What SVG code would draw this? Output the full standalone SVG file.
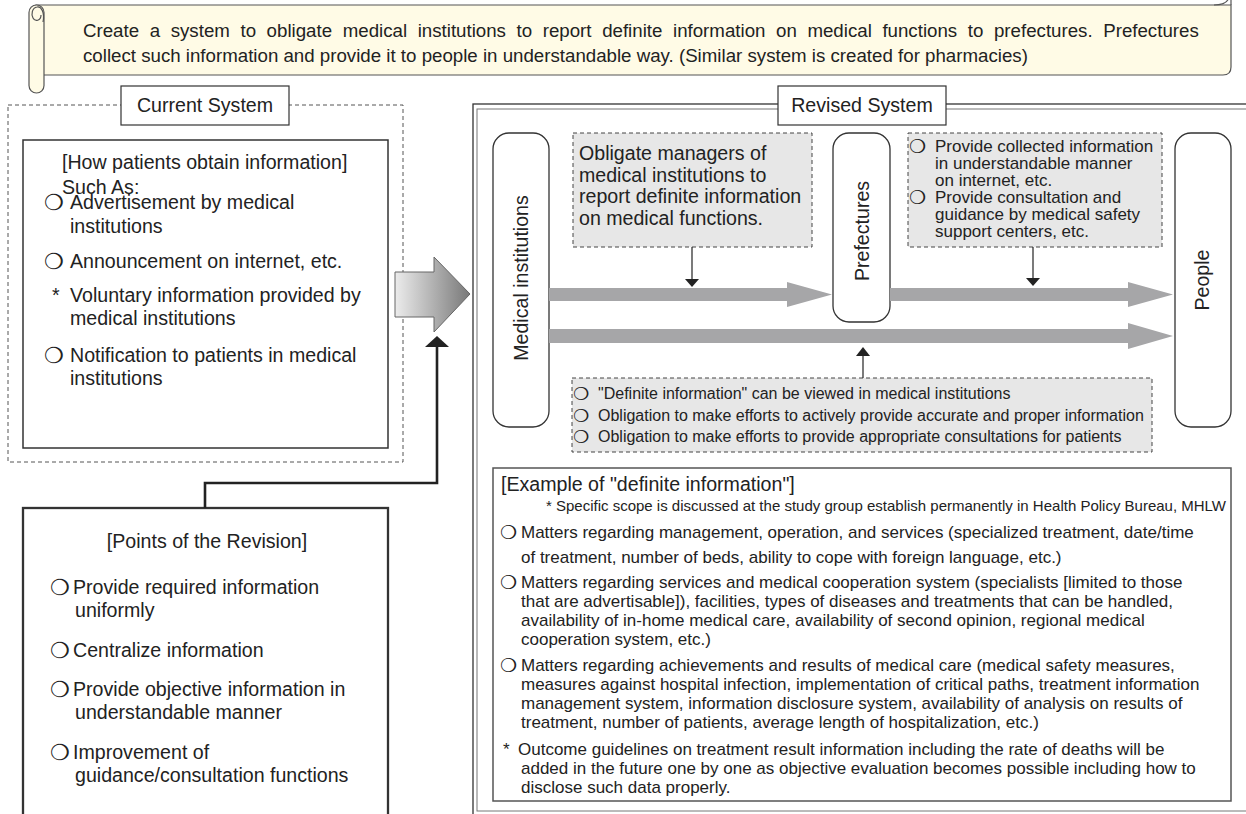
<svg xmlns="http://www.w3.org/2000/svg" width="1246" height="814" viewBox="0 0 1246 814">
<defs>
<linearGradient id="bigArrowGrad" x1="0" y1="0" x2="1" y2="0">
<stop offset="0" stop-color="#ececec"/>
<stop offset="1" stop-color="#787878"/>
</linearGradient>
</defs>
<style>
text { font-family: "Liberation Sans", Arial, sans-serif; fill: #222; }
.f20 { font-size: 19.6px; }
.f19 { font-size: 18.7px; }
.f17 { font-size: 17px; }
.f16 { font-size: 16px; }
.f15 { font-size: 15px; }
.mid { text-anchor: middle; }
.bul { font-family: "DejaVu Sans", sans-serif; }
.b22 { font-size: 22px; }
.b19 { font-size: 19px; }
.b18 { font-size: 18px; }
.dash { fill: #e7e7e7; stroke: #444; stroke-width: 1; stroke-dasharray: 4 3; }
.node { fill: #fff; stroke: #333; stroke-width: 1.3; }
.flow { fill: #a6a6a8; }
.blk { fill: #222; }
.ln { stroke: #222; fill: none; }
.scroll { fill: #fffbe6; stroke: #555; stroke-width: 1.2; }
</style>
<rect width="1246" height="814" fill="#fff"/>

<g id="banner">
<path class="scroll" d="M36 5 H1231 V67 Q1231 75 1223 75 H36 Z"/>
<path d="M1231 5 V-3 M1214 5 C1223 5 1228 2 1229 -3" fill="none" stroke="#555" stroke-width="1.2"/>
<rect class="scroll" x="29" y="5" width="15" height="88" rx="7.5"/>
<path d="M43 22 C45 12 41 6 37 7 C32 8 31 14 33 18 C35 22 41 21 41 15" fill="none" stroke="#555" stroke-width="1.2"/>
<text class="f19" x="83" y="37" word-spacing="5.4">Create a system to obligate medical institutions to report definite information on medical functions to prefectures. Prefectures</text>
<text class="f19" x="83" y="62">collect such information and provide it to people in understandable way. (Similar system is created for pharmacies)</text>
</g>

<g id="current-system">
<rect x="8" y="105" width="395" height="357" fill="none" stroke="#555" stroke-width="1" stroke-dasharray="4 3"/>
<rect x="23" y="140" width="365" height="308" fill="#fff" stroke="#333" stroke-width="1.5"/>
<rect x="121" y="86" width="168" height="39" fill="#fff" stroke="#333" stroke-width="1.2"/>
<text class="f20 mid" x="205" y="112">Current System</text>
<text class="f20" x="62" y="169">[How patients obtain information]</text>
<text class="f20" x="62" y="194">Such As:</text>
<text class="bul b22" x="44" y="210">❍</text>
<text class="f20" x="70" y="209">Advertisement by medical</text>
<text class="f20" x="70" y="233">institutions</text>
<text class="bul b22" x="44" y="269">❍</text>
<text class="f20" x="70" y="268">Announcement on internet, etc.</text>
<text class="f20" x="52" y="302">*</text>
<text class="f20" x="70" y="302">Voluntary information provided by</text>
<text class="f20" x="70" y="325">medical institutions</text>
<text class="bul b22" x="44" y="363">❍</text>
<text class="f20" x="70" y="362">Notification to patients in medical</text>
<text class="f20" x="70" y="385">institutions</text>
</g>

<g id="transition-arrow">
<polygon points="395,272 434,272 434,257 470,294 434,332 434,317 395,317" fill="url(#bigArrowGrad)" stroke="#666" stroke-width="1"/>
</g>

<g id="points-of-revision">
<rect x="23" y="508" width="365" height="330" fill="#fff" stroke="#333" stroke-width="2.3"/>
<text class="f20 mid" x="207" y="548">[Points of the Revision]</text>
<text class="bul b22" x="50" y="595">❍</text>
<text class="f20" x="73" y="594">Provide required information</text>
<text class="f20" x="75" y="617">uniformly</text>
<text class="bul b22" x="50" y="658">❍</text>
<text class="f20" x="73" y="657">Centralize information</text>
<text class="bul b22" x="50" y="697">❍</text>
<text class="f20" x="73" y="696">Provide objective information in</text>
<text class="f20" x="75" y="719">understandable manner</text>
<text class="bul b22" x="50" y="760">❍</text>
<text class="f20" x="73" y="759">Improvement of</text>
<text class="f20" x="75" y="782">guidance/consultation functions</text>
</g>

<g id="revised-system">
<rect x="473" y="104" width="800" height="720" fill="none" stroke="#333" stroke-width="1.3"/>
<rect x="477" y="109" width="800" height="702" fill="none" stroke="#777" stroke-width="1"/>
<rect x="778" y="86" width="168" height="39" fill="#fff" stroke="#333" stroke-width="1.2"/>
<text class="f20 mid" x="862" y="112">Revised System</text>
</g>

<g id="medical-institutions">
<rect class="node" x="493" y="133" width="56" height="294" rx="16"/>
<text class="f20 mid" transform="translate(528 278) rotate(-90)">Medical institutions</text>
</g>

<g id="prefectures">
<rect class="node" x="833" y="133" width="57" height="189" rx="16"/>
<text class="f20 mid" transform="translate(869 231) rotate(-90)">Prefectures</text>
</g>

<g id="people">
<rect class="node" x="1175" y="133" width="56" height="294" rx="16"/>
<text class="f20 mid" transform="translate(1209 280) rotate(-90)">People</text>
</g>

<g id="box-report-obligation">
<rect class="dash" x="573" y="133" width="239" height="114"/>
<text class="f20" x="579" y="160">Obligate managers of</text>
<text class="f20" x="579" y="181.7">medical institutions to</text>
<text class="f20" x="579" y="203.3">report definite information</text>
<text class="f20" x="579" y="225">on medical functions.</text>
</g>

<g id="box-prefecture-provision">
<rect class="dash" x="908" y="133" width="254" height="114"/>
<text class="bul b19" x="909" y="153">❍</text>
<text class="f17" x="935" y="152">Provide collected information</text>
<text class="f17" x="935" y="169">in understandable manner</text>
<text class="f17" x="935" y="186">on internet, etc.</text>
<text class="bul b19" x="909" y="204">❍</text>
<text class="f17" x="935" y="203">Provide consultation and</text>
<text class="f17" x="935" y="220">guidance by medical safety</text>
<text class="f17" x="935" y="237">support centers, etc.</text>
</g>

<g id="box-institution-duties">
<rect class="dash" x="572" y="378" width="580" height="74"/>
<text class="bul b18" x="573" y="400">❍</text>
<text class="f16" x="598" y="399">"Definite information" can be viewed in medical institutions</text>
<text class="bul b18" x="573" y="421.5">❍</text>
<text class="f16" x="598" y="420.5">Obligation to make efforts to actively provide accurate and proper information</text>
<text class="bul b18" x="573" y="443">❍</text>
<text class="f16" x="598" y="442">Obligation to make efforts to provide appropriate consultations for patients</text>
</g>

<g id="example-definite-information">
<rect x="493" y="468" width="738" height="333" fill="#fff" stroke="#555" stroke-width="1.5"/>
<text class="f20" x="501" y="491">[Example of "definite information"]</text>
<text class="f15" x="1226" y="511" text-anchor="end">* Specific scope is discussed at the study group establish permanently in Health Policy Bureau, MHLW</text>
<text class="bul b19" x="500" y="539">❍</text>
<text class="f17" x="521" y="538">Matters regarding management, operation, and services (specialized treatment, date/time</text>
<text class="f17" x="521" y="563">of treatment, number of beds, ability to cope with foreign language, etc.)</text>
<text class="bul b19" x="500" y="589">❍</text>
<text class="f17" x="521" y="588">Matters regarding services and medical cooperation system (specialists [limited to those</text>
<text class="f17" x="521" y="607">that are advertisable]), facilities, types of diseases and treatments that can be handled,</text>
<text class="f17" x="521" y="626">availability of in-home medical care, availability of second opinion, regional medical</text>
<text class="f17" x="521" y="645">cooperation system, etc.)</text>
<text class="bul b19" x="500" y="672">❍</text>
<text class="f17" x="521" y="671">Matters regarding achievements and results of medical care (medical safety measures,</text>
<text class="f17" x="521" y="690">measures against hospital infection, implementation of critical paths, treatment information</text>
<text class="f17" x="521" y="709">management system, information disclosure system, availability of analysis on results of</text>
<text class="f17" x="521" y="728">treatment, number of patients, average length of hospitalization, etc.)</text>
<text class="f17" x="503" y="755">*</text>
<text class="f17" x="518" y="755">Outcome guidelines on treatment result information including the rate of deaths will be</text>
<text class="f17" x="521" y="774">added in the future one by one as objective evaluation becomes possible including how to</text>
<text class="f17" x="521" y="793">disclose such data properly.</text>
</g>

<g id="connectors">
<polygon class="flow" points="549,288 787,288 787,282 832,294.5 787,307 787,301 549,301"/>
<polygon class="flow" points="890,288 1128,288 1128,282 1173,294.5 1128,307 1128,301 890,301"/>
<polygon class="flow" points="549,329 1128,329 1128,323 1173,336 1128,349 1128,343 549,343"/>
<line class="ln" x1="692" y1="247" x2="692" y2="279" stroke-width="1.2"/>
<polygon class="blk" points="685,279 699,279 692,287"/>
<line class="ln" x1="1033" y1="247" x2="1033" y2="278" stroke-width="1.2"/>
<polygon class="blk" points="1026,278 1040,278 1033,286"/>
<line class="ln" x1="863" y1="378" x2="863" y2="356" stroke-width="1.2"/>
<polygon class="blk" points="856,356 870,356 863,347"/>
<polyline class="ln" points="205,508 205,483 437,483 437,346" stroke-width="2.6"/>
<polygon class="blk" points="425,347 449,347 437,336"/>
</g>
</svg>
